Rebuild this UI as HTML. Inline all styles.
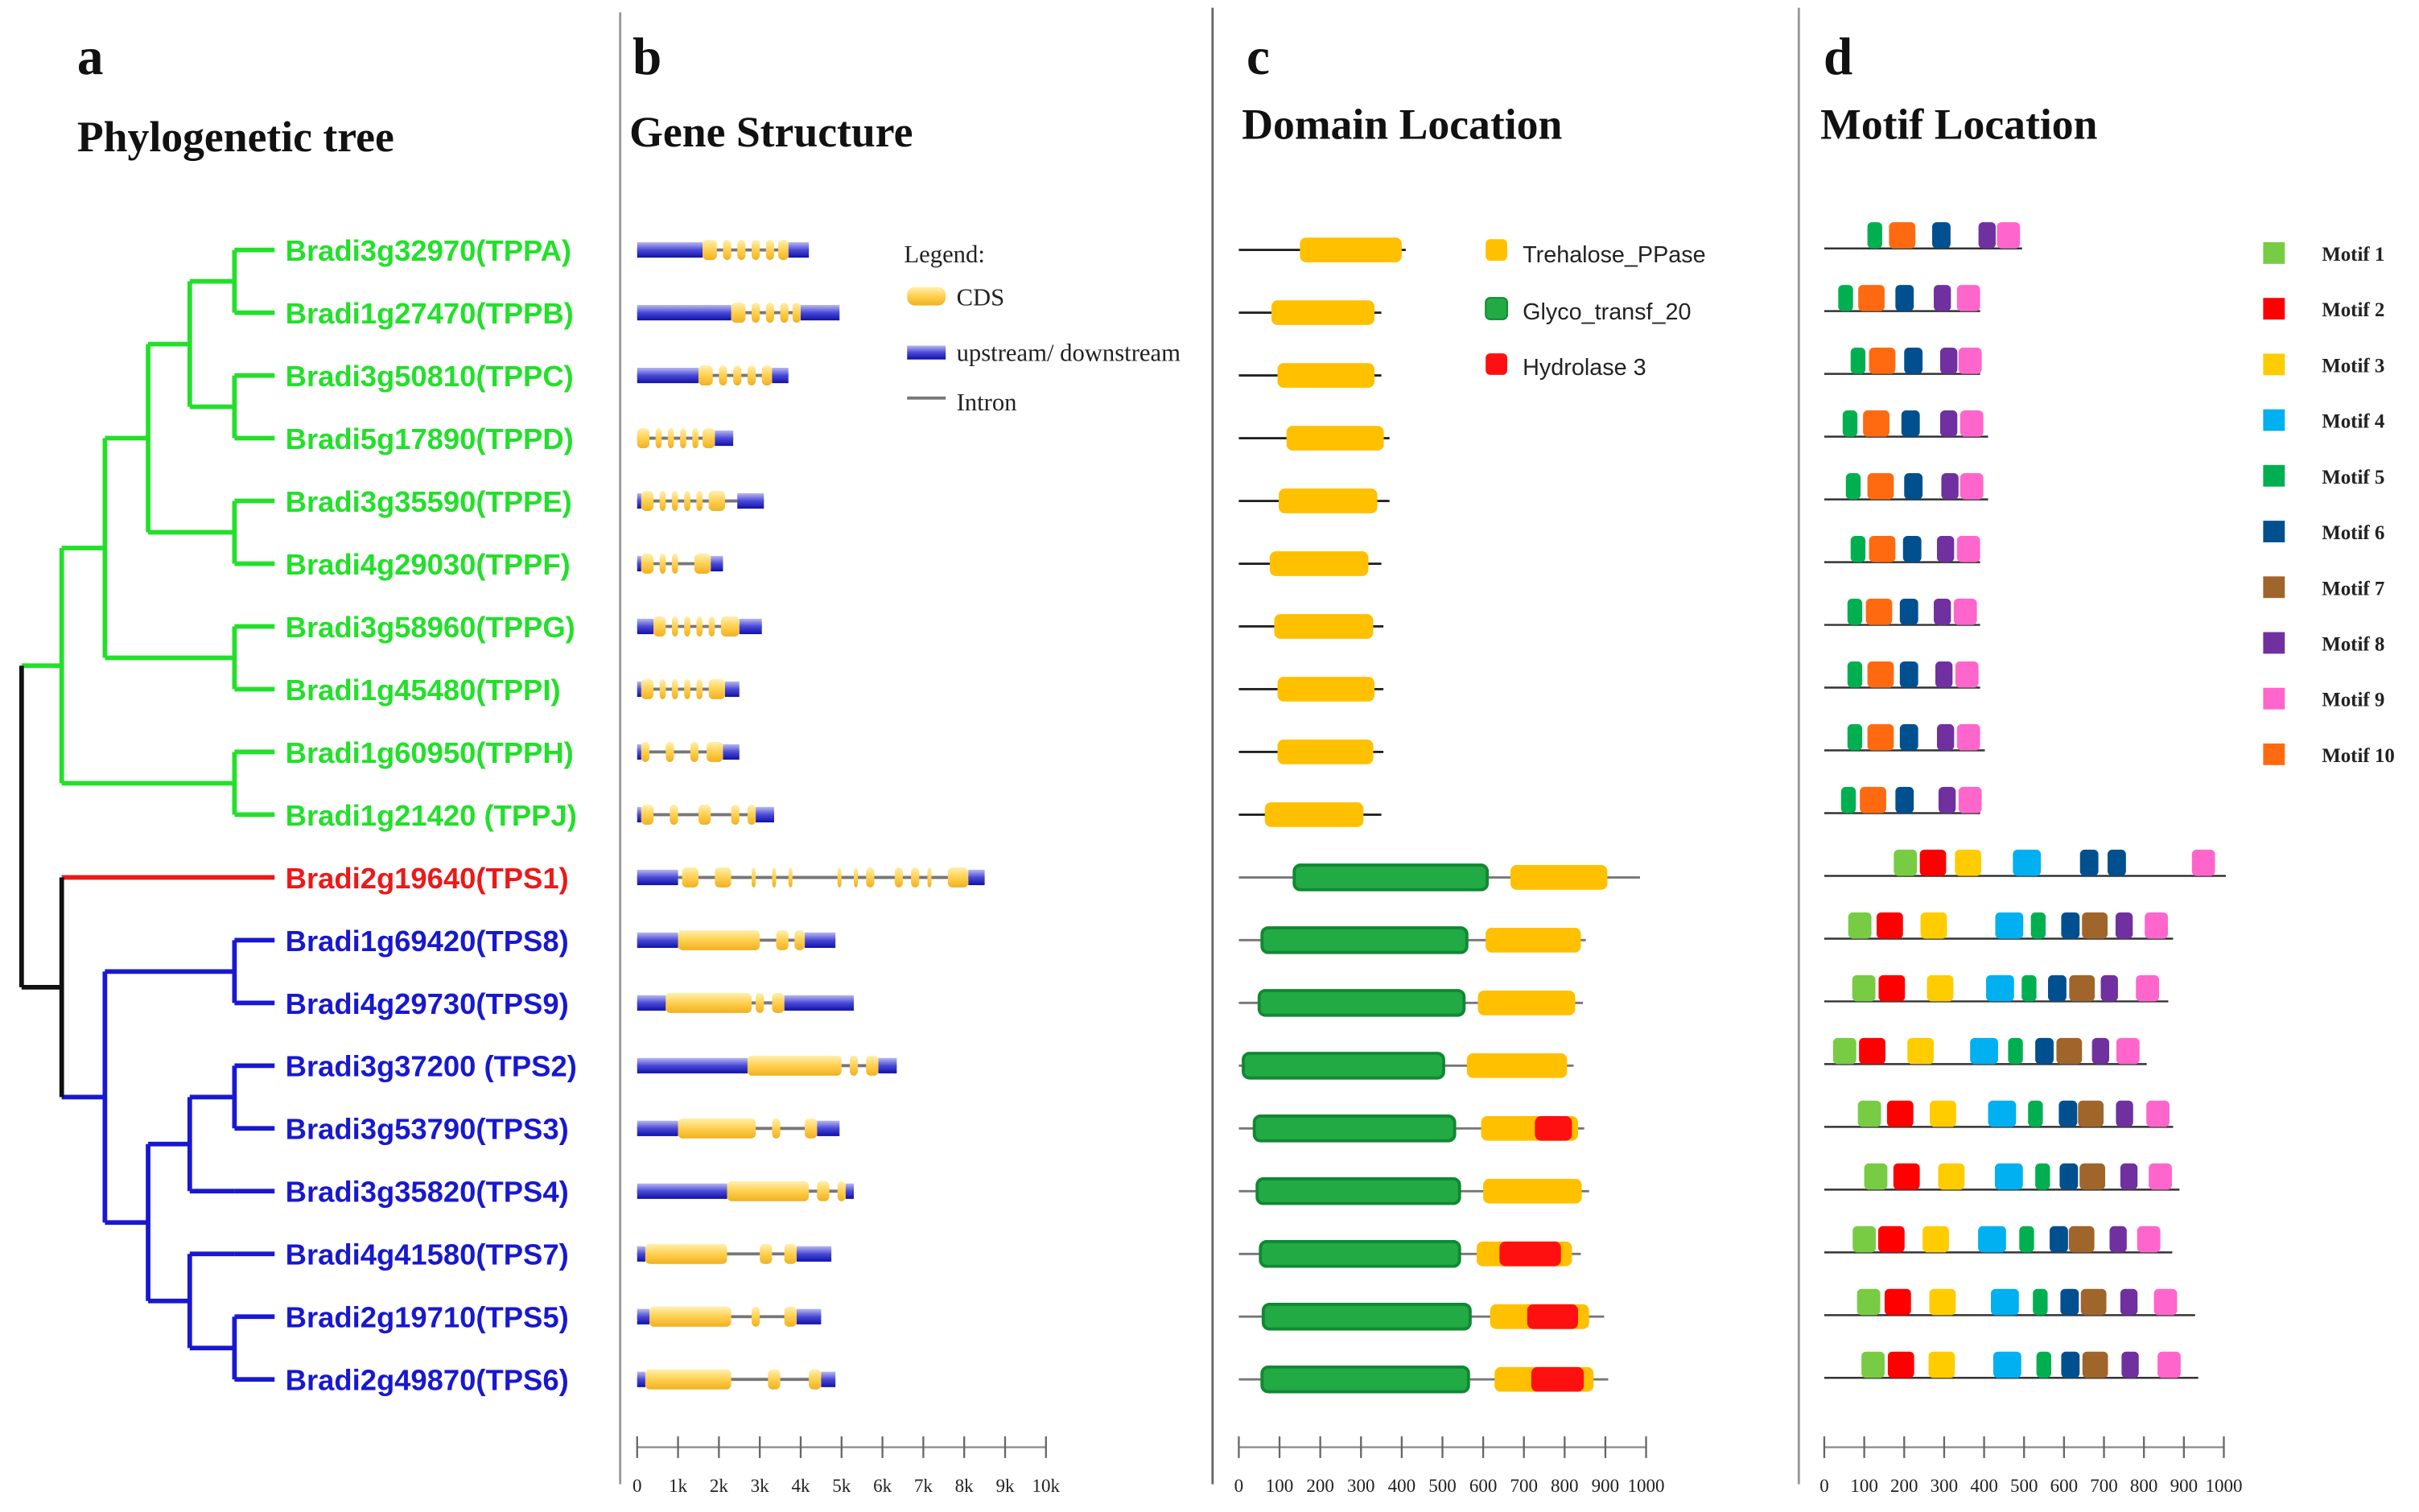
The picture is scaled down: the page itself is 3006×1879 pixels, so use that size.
<!DOCTYPE html>
<html><head><meta charset="utf-8"><style>
html,body{margin:0;padding:0;background:#fff}
svg{display:block}
.ttl{font-family:"Liberation Serif",serif;font-weight:bold;fill:#111}
.lab{font-family:"Liberation Sans",sans-serif;font-size:19px;font-weight:bold}
.tick{font-family:"Liberation Serif",serif;font-size:12px;fill:#222}
.leg{font-family:"Liberation Serif",serif;font-size:16px;fill:#222}
.legs{font-family:"Liberation Sans",sans-serif;font-size:15px;fill:#222}
.legm{font-family:"Liberation Serif",serif;font-size:13px;font-weight:bold;fill:#222}
</style></head><body>
<svg id="fig" width="3006" height="1879" viewBox="0 0 1568 980" preserveAspectRatio="none" xmlns="http://www.w3.org/2000/svg">
<defs>
<linearGradient id="gU" x1="0" y1="0" x2="0" y2="1"><stop offset="0" stop-color="#b8b8f0"/><stop offset="0.5" stop-color="#4a4ad8"/><stop offset="1" stop-color="#1010a8"/></linearGradient>
<linearGradient id="gC" x1="0" y1="0" x2="0" y2="1"><stop offset="0" stop-color="#fff0b0"/><stop offset="0.5" stop-color="#ffd050"/><stop offset="1" stop-color="#f0b020"/></linearGradient>
</defs>
<g>
<line x1="402" y1="8" x2="402" y2="962" stroke="#999" stroke-width="1.5"/>
<line x1="786" y1="5" x2="786" y2="962" stroke="#666" stroke-width="1.5"/>
<line x1="1166" y1="5" x2="1166" y2="962" stroke="#999" stroke-width="1.5"/>
</g>
<text class="ttl" x="50" y="48" font-size="34">a</text>
<text class="ttl" x="50" y="98" font-size="28">Phylogenetic tree</text>
<text class="ttl" x="410" y="48" font-size="34">b</text>
<text class="ttl" x="408" y="95" font-size="28">Gene Structure</text>
<text class="ttl" x="808" y="48" font-size="34">c</text>
<text class="ttl" x="805" y="90" font-size="28">Domain Location</text>
<text class="ttl" x="1182" y="48" font-size="34">d</text>
<text class="ttl" x="1180" y="90" font-size="28">Motif Location</text>

<g>
<text class="leg" x="586" y="170">Legend:</text>
<rect x="588" y="186" width="25" height="12" rx="5" fill="url(#gC)"/>
<text class="leg" x="620" y="198">CDS</text>
<rect x="588" y="224" width="25" height="9" fill="url(#gU)"/>
<text class="leg" x="620" y="234">upstream/ downstream</text>
<line x1="588" y1="258" x2="613" y2="258" stroke="#777" stroke-width="2"/>
<text class="leg" x="620" y="266">Intron</text>
</g>
<g>
<rect x="963" y="155" width="14" height="14" rx="3" fill="#ffc000"/><text class="legs" x="987" y="170">Trehalose_PPase</text>
<rect x="963" y="193" width="14" height="14" rx="3" fill="#22aa44" stroke="#118833"/><text class="legs" x="987" y="207">Glyco_transf_20</text>
<rect x="963" y="229" width="14" height="14" rx="3" fill="#ff1010"/><text class="legs" x="987" y="243">Hydrolase 3</text>
</g>
<g id="tree"></g>
<g id="labels"></g>
<g id="genes"></g>
<g id="domains"></g>
<g id="motifs"></g>
<g id="axes"></g>
<g id="mlegend"></g>
</svg>
<script>
const names=["Bradi3g32970(TPPA)","Bradi1g27470(TPPB)","Bradi3g50810(TPPC)","Bradi5g17890(TPPD)","Bradi3g35590(TPPE)","Bradi4g29030(TPPF)","Bradi3g58960(TPPG)","Bradi1g45480(TPPI)","Bradi1g60950(TPPH)","Bradi1g21420 (TPPJ)","Bradi2g19640(TPS1)","Bradi1g69420(TPS8)","Bradi4g29730(TPS9)","Bradi3g37200 (TPS2)","Bradi3g53790(TPS3)","Bradi3g35820(TPS4)","Bradi4g41580(TPS7)","Bradi2g19710(TPS5)","Bradi2g49870(TPS6)"];
const groups=["g","g","g","g","g","g","g","g","g","g","r","b","b","b","b","b","b","b","b"];
// gene structure (kb): total length, UTR segments, CDS exons
const geneLen=[4.2,4.95,3.7,2.35,3.1,2.1,3.05,2.5,2.5,3.35,8.5,4.85,5.3,6.35,4.95,5.3,4.75,4.5,4.85];
const utrs=[[[0,1.6],[3.7,4.2]],[[0,2.3],[4.0,4.95]],[[0,1.5],[3.3,3.7]],[[1.9,2.35]],[[0,0.1],[2.45,3.1]],[[0,0.1],[1.8,2.1]],[[0,0.4],[2.5,3.05]],[[0,0.1],[2.15,2.5]],[[0,0.1],[2.1,2.5]],[[0,0.1],[2.9,3.35]],[[0,1.0],[8.1,8.5]],[[0,1.0],[4.1,4.85]],[[0,0.7],[3.6,5.3]],[[0,2.7],[5.9,6.35]],[[0,1.0],[4.4,4.95]],[[0,2.2],[5.1,5.3]],[[0,0.2],[3.9,4.75]],[[0,0.3],[3.9,4.5]],[[0,0.2],[4.5,4.85]]];
const exons=[
[[1.6,1.95],[2.1,2.3],[2.45,2.65],[2.8,3.0],[3.15,3.35],[3.45,3.7]],
[[2.3,2.65],[2.8,3.0],[3.15,3.35],[3.5,3.7],[3.8,4.0]],
[[1.5,1.85],[2.0,2.2],[2.35,2.55],[2.7,2.9],[3.05,3.3]],
[[0,0.3],[0.45,0.6],[0.75,0.9],[1.05,1.2],[1.35,1.5],[1.6,1.9]],
[[0.1,0.4],[0.55,0.7],[0.85,1.0],[1.15,1.3],[1.45,1.6],[1.75,2.15]],
[[0.1,0.4],[0.55,0.7],[0.85,1.0],[1.4,1.8]],
[[0.4,0.7],[0.85,1.0],[1.15,1.3],[1.45,1.6],[1.75,1.9],[2.05,2.5]],
[[0.1,0.4],[0.55,0.7],[0.85,1.0],[1.15,1.3],[1.45,1.6],[1.75,2.15]],
[[0.1,0.3],[0.7,0.9],[1.3,1.5],[1.7,2.1]],
[[0.1,0.4],[0.8,1.0],[1.5,1.8],[2.3,2.5],[2.7,2.9]],
[[1.1,1.5],[1.9,2.3],[2.8,2.9],[3.3,3.4],[3.7,3.8],[4.9,5.0],[5.3,5.4],[5.6,5.8],[6.3,6.5],[6.7,6.9],[7.1,7.2],[7.6,8.1]],
[[1.0,3.0],[3.4,3.7],[3.85,4.1]],
[[0.7,2.8],[2.9,3.1],[3.3,3.6]],
[[2.7,5.0],[5.2,5.4],[5.6,5.9]],
[[1.0,2.9],[3.3,3.5],[4.1,4.4]],
[[2.2,4.2],[4.4,4.7],[4.9,5.1]],
[[0.2,2.2],[3.0,3.3],[3.6,3.9]],
[[0.3,2.3],[2.8,3.0],[3.6,3.9]],
[[0.2,2.3],[3.2,3.5],[4.2,4.5]]];
// protein domains (aa): length, domains [type,start,end]  T=Trehalose_PPase G=Glyco_transf_20 H=Hydrolase 3
const protLen=[410,350,350,370,370,350,355,355,355,350,985,852,845,822,848,860,840,897,907];
const domains=[
[["T",150,400]],[["T",80,333]],[["T",95,333]],[["T",117,356]],[["T",98,340]],[["T",76,318]],[["T",87,330]],[["T",95,333]],[["T",95,330]],[["T",64,306]],
[["G",136,610],["T",667,905]],[["G",57,560],["T",606,840]],[["G",50,553],["T",587,826]],[["G",11,503],["T",560,806]],
[["G",38,530],["T",595,833],["H",727,818]],[["G",45,542],["T",600,842]],[["G",53,542],["T",584,818],["H",640,791]],
[["G",60,568],["T",617,860],["H",708,833]],[["G",57,564],["T",628,871],["H",718,847]]];
// motifs (aa)
const motifWidth=[58,66,66,70,37,46,64,43,58,66];
const motifLen=[495,390,390,410,410,390,390,390,402,390,1005,873,861,807,873,889,871,928,936];
const motifs=[
[[5,108],[10,162],[6,270],[8,386],[9,432]],
[[5,35],[10,85],[6,178],[8,274],[9,332]],
[[5,66],[10,112],[6,200],[8,290],[9,336]],
[[5,46],[10,97],[6,193],[8,290],[9,340]],
[[5,54],[10,108],[6,200],[8,293],[9,340]],
[[5,66],[10,112],[6,197],[8,282],[9,332]],
[[5,58],[10,104],[6,189],[8,274],[9,324]],
[[5,58],[10,108],[6,189],[8,278],[9,328]],
[[5,58],[10,108],[6,189],[8,282],[9,332]],
[[5,42],[10,89],[6,178],[8,286],[9,336]],
[[1,174],[2,239],[3,327],[4,472],[6,640],[6,709],[9,920]],
[[1,60],[2,131],[3,241],[4,428],[5,517],[6,593],[7,645],[8,729],[9,802]],
[[1,70],[2,136],[3,257],[4,405],[5,494],[6,560],[7,613],[8,692],[9,780]],
[[1,22],[2,87],[3,208],[4,365],[5,460],[6,528],[7,581],[8,670],[9,731]],
[[1,84],[2,157],[3,264],[4,410],[5,510],[6,587],[7,635],[8,730],[9,806]],
[[1,100],[2,173],[3,285],[4,427],[5,528],[6,589],[7,639],[8,741],[9,812]],
[[1,71],[2,135],[3,246],[4,385],[5,488],[6,564],[7,612],[8,714],[9,783]],
[[1,82],[2,151],[3,263],[4,417],[5,522],[6,591],[7,642],[8,741],[9,825]],
[[1,93],[2,159],[3,261],[4,423],[5,531],[6,593],[7,646],[8,744],[9,834]]];
const kbTicks=["0","1k","2k","3k","4k","5k","6k","7k","8k","9k","10k"];
const aaTicks=["0","100","200","300","400","500","600","700","800","900","1000"];

const NS="http://www.w3.org/2000/svg";
function mk(p,tag,at){const e=document.createElementNS(NS,tag);for(const k in at)e.setAttribute(k,at[k]);p.appendChild(e);return e;}
const rowY=i=>162+i*40.67;
const xb=v=>413+v*26.5, xc=v=>803+v*0.264, xd=v=>1182.5+v*0.259;
const motifColors=["#77cc44","#ff0000","#ffcc00","#00b0f0","#00b050","#005090","#a0652a","#7030a0","#ff66cc","#ff6a10"];
const col={g:"#22e02a",r:"#ee1818",b:"#1818d0"};

// tree
const tree=document.getElementById('tree');
function hl(x1,x2,y,c){const l=mk(tree,'line',{x1:x1,x2:x2,y1:y,y2:y,stroke:c,'stroke-width':3});}
function vl(x,y1,y2,c){const l=mk(tree,'line',{x1:x,x2:x,y1:y1,y2:y2,stroke:c,'stroke-width':3});}
const G=col.g,B=col.b,K="#111";
for(let i=0;i<19;i++){ if(i!==10) hl(152,178,rowY(i),col[groups[i]]); }
function mid(a,b){return (a+b)/2;}
const ab=mid(rowY(0),rowY(1)),cd=mid(rowY(2),rowY(3)),ef=mid(rowY(4),rowY(5)),gi=mid(rowY(6),rowY(7)),hj=mid(rowY(8),rowY(9));
[[0,1],[2,3],[4,5],[6,7],[8,9]].forEach(p=>vl(152,rowY(p[0]),rowY(p[1]),G));
const abcd=mid(ab,cd); hl(123,152,ab,G);hl(123,152,cd,G);vl(123,ab,cd,G);
const af=mid(abcd,ef); hl(96,123,abcd,G);hl(96,152,ef,G);vl(96,abcd,ef,G);
const ag=mid(af,gi); hl(68,96,af,G);hl(68,152,gi,G);vl(68,af,gi,G);
const gr=mid(ag,hj); hl(40,68,ag,G);hl(40,152,hj,G);vl(40,ag,hj,G);
// blue clade
const s89=mid(rowY(11),rowY(12)),s23=mid(rowY(13),rowY(14)),s56=mid(rowY(17),rowY(18));
[[11,12],[13,14],[17,18]].forEach(p=>vl(152,rowY(p[0]),rowY(p[1]),B));
const s234=mid(s23,rowY(15)); hl(123,152,s23,B);hl(123,152,rowY(15),B);vl(123,s23,rowY(15),B);
const s756=mid(rowY(16),s56); hl(123,152,rowY(16),B);hl(123,152,s56,B);vl(123,rowY(16),s56,B);
const sx=mid(s234,s756); hl(96,123,s234,B);hl(96,123,s756,B);vl(96,s234,s756,B);
const sb=mid(s89,sx); hl(68,152,s89,B);hl(68,96,sx,B);vl(68,s89,sx,B);
hl(40,68,sb,B); hl(40,178,rowY(10),col.r);
const rb=mid(rowY(10),sb); vl(40,rowY(10),sb,K); hl(14,40,rb,K);
hl(14,40,gr,G); vl(14,gr,rb,K);

// labels
const lab=document.getElementById('labels');
names.forEach((n,i)=>{const t=mk(lab,'text',{x:185,y:rowY(i)+7,class:'lab',fill:col[groups[i]]});t.textContent=n;
});

// genes
const gg=document.getElementById('genes');
geneLen.forEach((L,i)=>{const y=rowY(i);const g=mk(gg,'g',{});

mk(g,'line',{x1:xb(0),x2:xb(L),y1:y,y2:y,stroke:'#777','stroke-width':2});
utrs[i].forEach(s=>mk(g,'rect',{x:xb(s[0]),y:y-5,width:xb(s[1])-xb(s[0]),height:10,fill:'url(#gU)'}));
exons[i].forEach(s=>mk(g,'rect',{x:xb(s[0]),y:y-6.5,width:Math.max(2,xb(s[1])-xb(s[0])),height:13,rx:3,fill:'url(#gC)'}));
});
// domains
const dg=document.getElementById('domains');
const dcol={T:"#ffc000",G:"#22aa44",H:"#ff1010"};
protLen.forEach((L,i)=>{const y=rowY(i);const g=mk(dg,'g',{});

mk(g,'line',{x1:xc(0),x2:xc(L),y1:y,y2:y,stroke:i>=10?'#777':'#222','stroke-width':1.5});
domains[i].forEach(d=>{const a={x:xc(d[1]),y:y-8,width:xc(d[2])-xc(d[1]),height:16,rx:4,fill:dcol[d[0]]};
if(d[0]==="G"){a.stroke="#118833";a['stroke-width']=2;}
const r=mk(g,'rect',a);});
});
// motifs
const mg=document.getElementById('motifs');
motifLen.forEach((L,i)=>{const y=rowY(i)-1;const g=mk(mg,'g',{});

mk(g,'line',{x1:xd(0),x2:xd(L),y1:y,y2:y,stroke:'#333','stroke-width':1.3});
motifs[i].forEach(m=>{const r=mk(g,'rect',{x:xd(m[1]),y:y-17,width:xd(m[1]+motifWidth[m[0]-1])-xd(m[1]),height:17,rx:3,fill:motifColors[m[0]-1]});
});
});
// motif legend
const ml=document.getElementById('mlegend');
for(let k=0;k<10;k++){const y=164+k*36.1;
const r=mk(ml,'rect',{x:1467,y:y-7,width:14,height:14,fill:motifColors[k]});

const t=mk(ml,'text',{x:1505,y:y+5,class:'legm'});t.textContent='Motif '+(k+1);
}
// axes
const ax=document.getElementById('axes');
function axis(fx,max,step,labels,name){const g=mk(ax,'g',{});

mk(g,'line',{x1:fx(0),x2:fx(max),y1:938,y2:938,stroke:'#888','stroke-width':1.2});
labels.forEach((l,k)=>{const x=fx(k*step);mk(g,'line',{x1:x,x2:x,y1:931,y2:945,stroke:'#666','stroke-width':1.2});
const t=mk(g,'text',{x:x,y:967,class:'tick','text-anchor':'middle'});t.textContent=l;});}
axis(xb,10,1,kbTicks,'gene-structure-axis');
axis(xc,1000,100,aaTicks,'domain-axis');
axis(xd,1000,100,aaTicks,'motif-axis');
</script>
</body></html>
